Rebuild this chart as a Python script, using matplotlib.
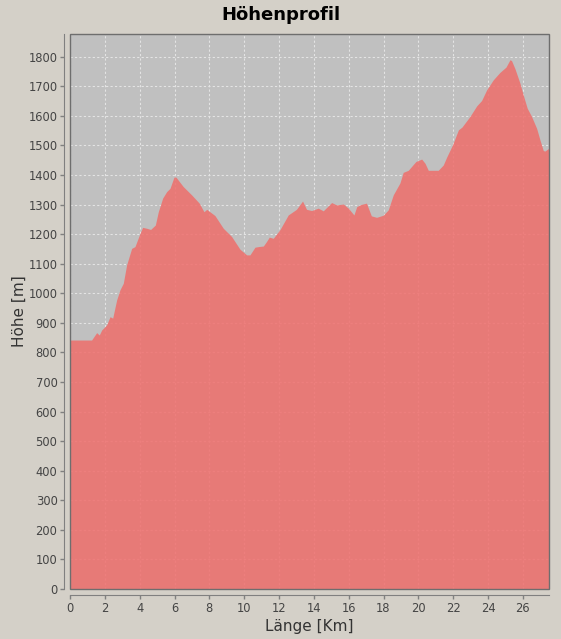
import matplotlib
matplotlib.use("Agg")
import matplotlib.pyplot as plt
from matplotlib.patches import Rectangle

# Streckenprofil (km, Höhe in m)
km = [0, 1.24, 1.53, 1.68, 1.82, 2.1, 2.3, 2.45, 2.68, 2.87, 3.06, 3.25, 3.54,
      3.73, 4.02, 4.17, 4.4, 4.63, 4.9, 5.07, 5.32, 5.55, 5.74, 5.97, 6.08,
      6.5, 6.98, 7.42, 7.69, 7.85, 8.32, 8.8, 9.28, 9.76, 10.14, 10.33, 10.62,
      10.82, 11.1, 11.28, 11.44, 11.67, 12.06, 12.53, 13.0, 13.35, 13.58,
      13.87, 14.25, 14.54, 15.02, 15.3, 15.69, 15.98, 16.3, 16.46, 16.68,
      17.02, 17.3, 17.6, 17.98, 18.27, 18.56, 18.94, 19.13, 19.42, 19.61,
      19.86, 20.19, 20.38, 20.57, 21.14, 21.43, 21.62, 21.96, 22.3, 22.5,
      22.96, 23.35, 23.63, 23.92, 24.3, 24.68, 25.03, 25.26, 25.35, 25.55,
      25.83, 26.02, 26.25, 26.5, 26.79, 26.98, 27.17, 27.26, 27.5]
hoehe = [842, 842, 867, 859, 876, 893, 921, 916, 978, 1012, 1034, 1096, 1152,
         1158, 1203, 1223, 1220, 1216, 1231, 1276, 1322, 1344, 1355, 1393, 1393,
         1361, 1333, 1305, 1276, 1284, 1263, 1220, 1192, 1149, 1130, 1130, 1156,
         1158, 1160, 1175, 1190, 1186, 1216, 1265, 1284, 1312, 1284,
         1280, 1288, 1279, 1307, 1299, 1302, 1288, 1265, 1293, 1300,
         1305, 1262, 1257, 1264, 1282, 1333, 1373, 1409, 1416, 1429,
         1446, 1454, 1440, 1416, 1416, 1434, 1460, 1502, 1553, 1562,
         1598, 1634, 1652, 1688, 1722, 1747, 1765, 1790, 1787, 1759,
         1711, 1671, 1626, 1598, 1558, 1519, 1483, 1481, 1491]

x_ticks = list(range(0, 27, 2))
y_ticks = list(range(0, 1801, 100))

bg = "#d4d0c8"
fig = plt.figure(figsize=(5.61, 6.39), dpi=100, facecolor=bg)
ax = fig.add_axes([70 / 561, 1 - 589 / 639, 479 / 561, 555 / 639])
ax.set_facecolor("#c0c0c0")

ax.grid(True, color="#e4e4e4", linestyle=(0, (2, 2)), linewidth=0.8)
ax.set_axisbelow(True)
ax.fill_between(km, hoehe, 0, color=(239 / 255, 110 / 255, 107 / 255),
                alpha=0.85, linewidth=0, zorder=2)

ax.set_xlim(0, 27.5)
ax.set_ylim(0, 1877)
ax.set_xticks(x_ticks)
ax.set_yticks(y_ticks)

# Rahmen um den Plotbereich
ax.add_patch(Rectangle((0, 0), 1, 1, transform=ax.transAxes, fill=False,
                       edgecolor="#6e6e6e", linewidth=1, zorder=5, clip_on=False))
for s in ["top", "right"]:
    ax.spines[s].set_visible(False)
for s in ["left", "bottom"]:
    ax.spines[s].set_position(("outward", 4))
    ax.spines[s].set_color("#808080")

ax.tick_params(colors="#808080", labelcolor="#444444", labelsize=8.3,
               length=3, width=1, pad=2)

ax.set_xlabel("Länge [Km]", fontsize=11, color="#333333", labelpad=3)
ax.set_ylabel("Höhe [m]", fontsize=11, color="#333333", labelpad=1)
fig.text(0.5, 1 - 15 / 639, "Höhenprofil", ha="center", va="center",
         fontsize=13, fontweight="bold", color="black")

fig.savefig("out.png", dpi=100, facecolor=bg)
